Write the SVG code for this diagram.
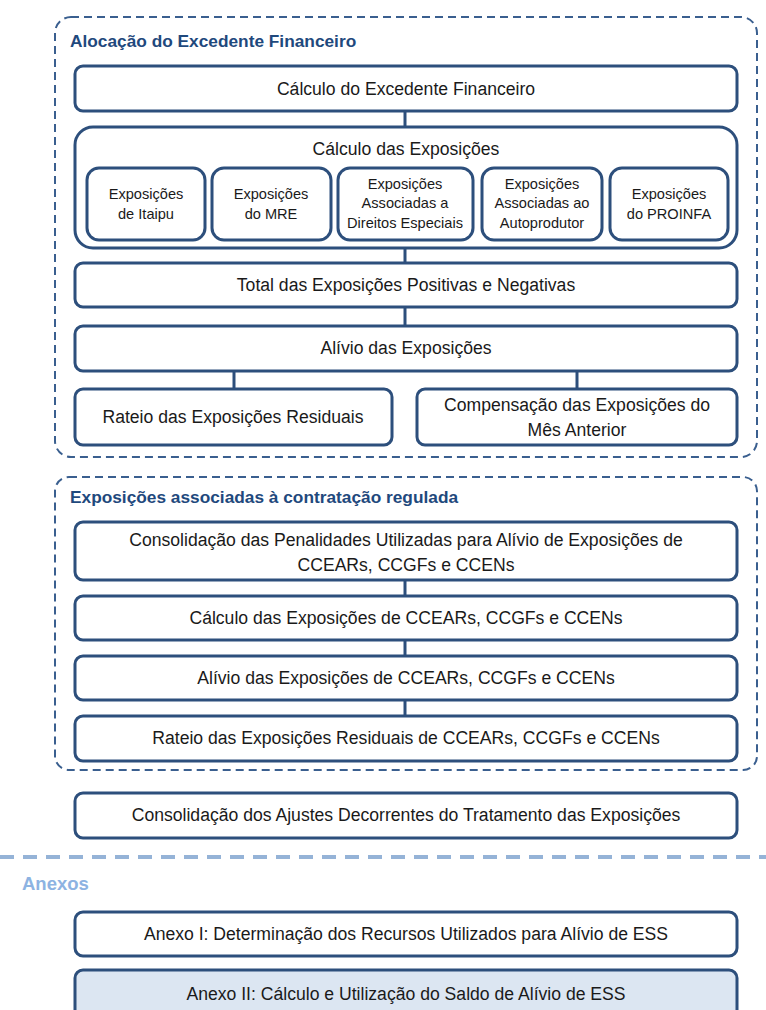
<svg xmlns="http://www.w3.org/2000/svg" width="766" height="1010" viewBox="0 0 766 1010">
<style>
.bg{fill:#ffffff}
.grp{fill:none;stroke:#3a5f8f;stroke-width:2;stroke-dasharray:8 5}
.n{fill:#ffffff;stroke:#2d4f7c;stroke-width:3}
.n2{fill:#dce6f2;stroke:#2d4f7c;stroke-width:3}
.c{stroke:#2d4f7c;stroke-width:3;fill:none}
text{font-family:"Liberation Sans",Arial,sans-serif;fill:#1a1a1a}
.t{font-size:17.6px;text-anchor:middle}
.s{font-size:14.6px;text-anchor:middle}
.h{font-size:17.3px;font-weight:bold;fill:#1f497d}
.ha{font-size:18.5px;font-weight:bold;fill:#8db3e2}
</style>
<rect class="bg" x="0" y="0" width="766" height="1010"/>
<g id="grupo1">
<rect class="grp" x="55" y="17" width="702" height="440" rx="16"/>
<text class="h" x="70" y="47">Alocação do Excedente Financeiro</text>
</g>
<g id="grupo2">
<rect class="grp" x="55" y="477" width="702" height="293" rx="14"/>
<text class="h" x="70" y="503">Exposições associadas à contratação regulada</text>
</g>
<g id="connectors">
<line class="c" x1="405" y1="111" x2="405" y2="127"/>
<line class="c" x1="405" y1="248" x2="405" y2="263"/>
<line class="c" x1="405" y1="307" x2="405" y2="326"/>
<line class="c" x1="234" y1="371" x2="234" y2="389"/>
<line class="c" x1="577" y1="371" x2="577" y2="389"/>
<line class="c" x1="405" y1="580" x2="405" y2="596"/>
<line class="c" x1="405" y1="640" x2="405" y2="656"/>
<line class="c" x1="405" y1="700" x2="405" y2="716"/>
</g>
<g id="n1"><rect class="n" x="75" y="66" width="662" height="45" rx="8"/><text class="t" x="406" y="95">Cálculo do Excedente Financeiro</text></g>
<g id="n2"><rect class="n" x="75" y="127" width="662" height="121" rx="18"/><text class="t" x="406" y="155">Cálculo das Exposições</text></g>
<g id="n2a"><rect class="n" x="87" y="168" width="118" height="72" rx="12"/><text class="s" x="146" y="199">Exposições</text><text class="s" x="146" y="219">de Itaipu</text></g>
<g id="n2b"><rect class="n" x="212" y="168" width="119" height="72" rx="12"/><text class="s" x="271" y="199">Exposições</text><text class="s" x="271" y="219">do MRE</text></g>
<g id="n2c"><rect class="n" x="338" y="168" width="135" height="72" rx="12"/><text class="s" x="405" y="189">Exposições</text><text class="s" x="405" y="208">Associadas a</text><text class="s" x="405" y="228">Direitos Especiais</text></g>
<g id="n2d"><rect class="n" x="482" y="168" width="120" height="72" rx="12"/><text class="s" x="542" y="189">Exposições</text><text class="s" x="542" y="208">Associadas ao</text><text class="s" x="542" y="228">Autoprodutor</text></g>
<g id="n2e"><rect class="n" x="610" y="168" width="118" height="72" rx="12"/><text class="s" x="669" y="199">Exposições</text><text class="s" x="669" y="219">do PROINFA</text></g>
<g id="n3"><rect class="n" x="75" y="263" width="662" height="44" rx="8"/><text class="t" x="406" y="291">Total das Exposições Positivas e Negativas</text></g>
<g id="n4"><rect class="n" x="75" y="326" width="662" height="45" rx="8"/><text class="t" x="406" y="354">Alívio das Exposições</text></g>
<g id="n5"><rect class="n" x="75" y="389" width="317" height="56" rx="8"/><text class="t" x="233" y="423">Rateio das Exposições Residuais</text></g>
<g id="n6"><rect class="n" x="417" y="389" width="320" height="56" rx="8"/><text class="t" x="577" y="411">Compensação das Exposições do</text><text class="t" x="577" y="436">Mês Anterior</text></g>
<g id="n7"><rect class="n" x="75" y="522" width="662" height="58" rx="8"/><text class="t" x="406" y="546">Consolidação das Penalidades Utilizadas para Alívio de Exposições de</text><text class="t" x="406" y="571">CCEARs, CCGFs e CCENs</text></g>
<g id="n8"><rect class="n" x="75" y="596" width="662" height="44" rx="8"/><text class="t" x="406" y="624">Cálculo das Exposições de CCEARs, CCGFs e CCENs</text></g>
<g id="n9"><rect class="n" x="75" y="656" width="662" height="44" rx="8"/><text class="t" x="406" y="684">Alívio das Exposições de CCEARs, CCGFs e CCENs</text></g>
<g id="n10"><rect class="n" x="75" y="716" width="662" height="45" rx="8"/><text class="t" x="406" y="744">Rateio das Exposições Residuais de CCEARs, CCGFs e CCENs</text></g>
<g id="n11"><rect class="n" x="75" y="793" width="662" height="45" rx="8"/><text class="t" x="406" y="821">Consolidação dos Ajustes Decorrentes do Tratamento das Exposições</text></g>
<g id="sep"><line x1="0" y1="857" x2="766" y2="857" stroke="#95b3d7" stroke-width="4" stroke-dasharray="14 9"/><text class="ha" x="22" y="890">Anexos</text></g>
<g id="a1"><rect class="n" x="75" y="912" width="662" height="44" rx="8"/><text class="t" x="406" y="940">Anexo I: Determinação dos Recursos Utilizados para Alívio de ESS</text></g>
<g id="a2"><rect class="n2" x="75" y="970" width="662" height="50" rx="8"/><text class="t" x="406" y="1000">Anexo II: Cálculo e Utilização do Saldo de Alívio de ESS</text></g>
</svg>
